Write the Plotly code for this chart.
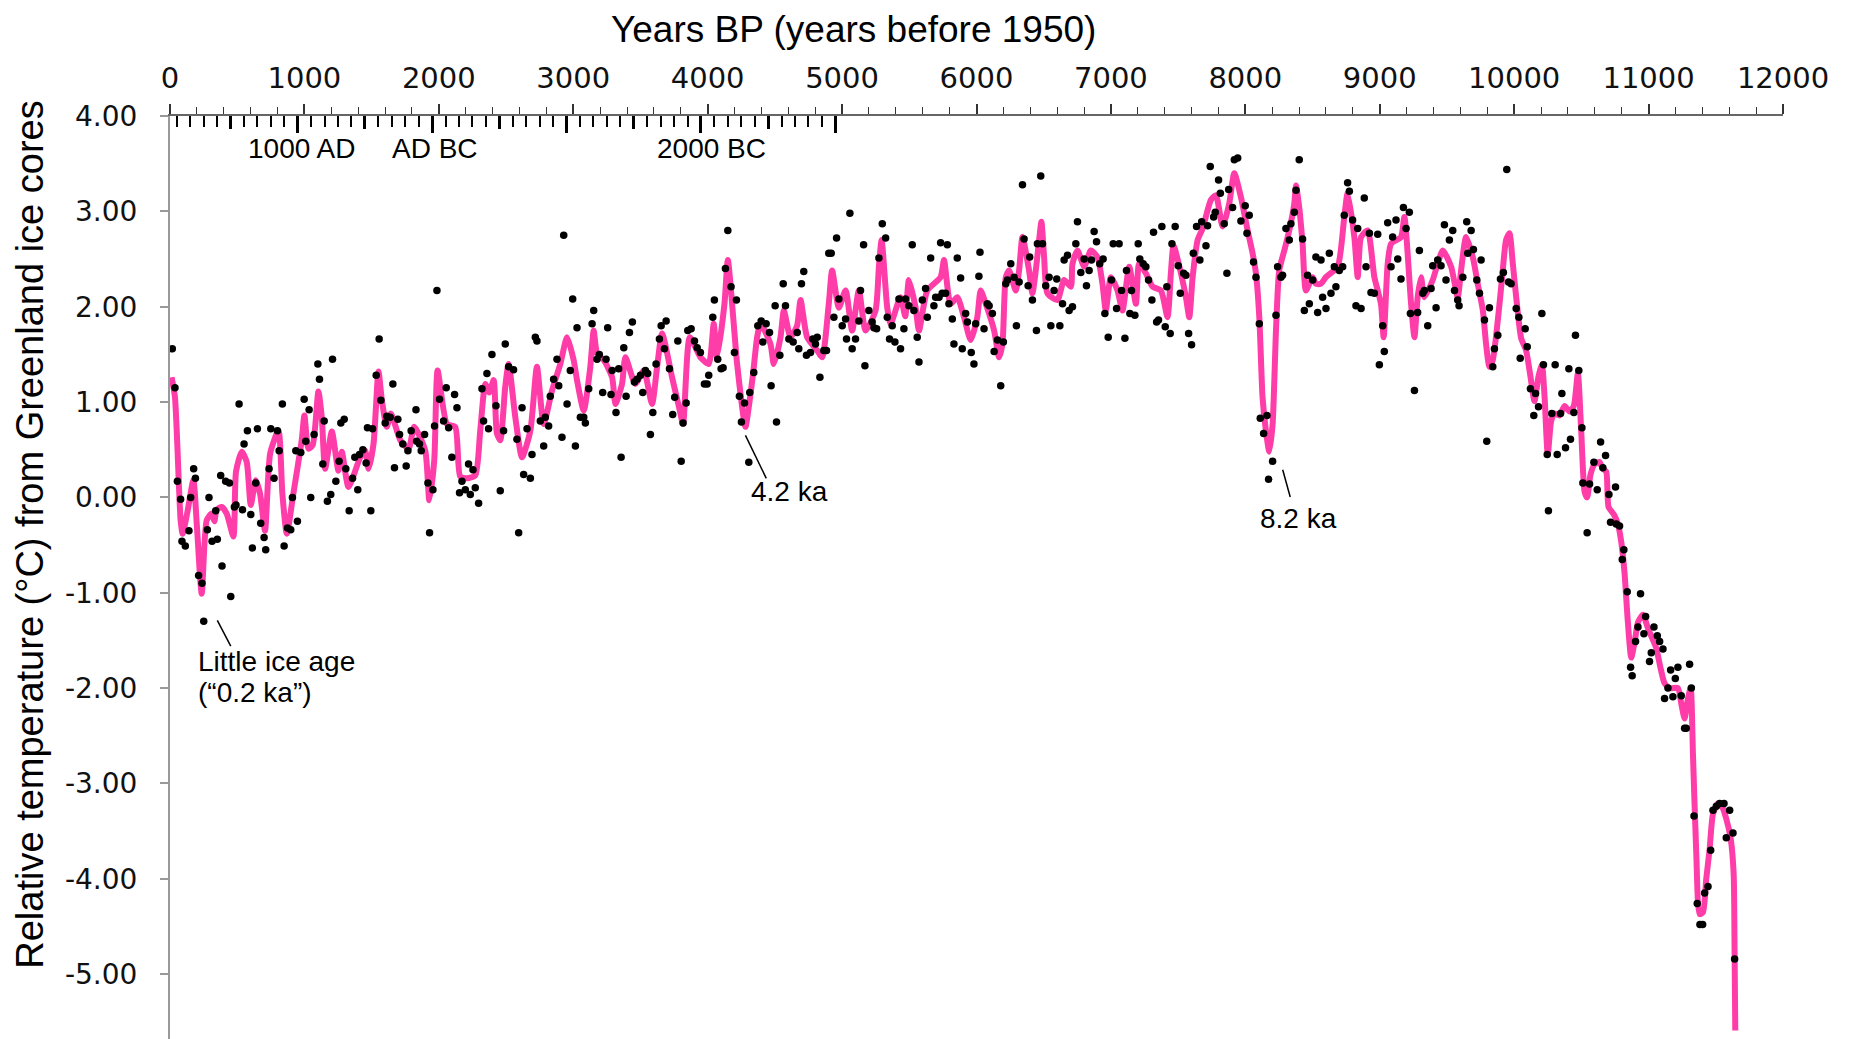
import plotly.graph_objects as go

# ---------------- data (years BP, relative temperature °C) ----------------
dot_years = [17, 37, 55, 79, 89, 114, 141, 154, 176, 189, 213, 238, 251, 278, 290, 313, 340, 352, 377, 387,
             414, 442, 452, 479, 491, 514, 539, 551, 576, 601, 613, 638, 650, 675, 700, 712, 737, 750, 774, 799,
             812, 836, 849, 874, 898, 911, 936, 948, 973, 998, 1010, 1035, 1047, 1072, 1100, 1112, 1137, 1147,
             1171, 1196, 1209, 1234, 1258, 1271, 1296, 1308, 1333, 1358, 1375, 1397, 1410, 1435, 1459, 1469,
             1494, 1507, 1534, 1556, 1569, 1601, 1613, 1638, 1658, 1670, 1695, 1708, 1732, 1757, 1770, 1794,
             1830, 1835, 1856, 1869, 1894, 1919, 1931, 1956, 1968, 1986, 2005,
             2035, 2055, 2073, 2097, 2117, 2135, 2154, 2172, 2197, 2221, 2234, 2254, 2271, 2296, 2321, 2333,
             2358, 2370, 2395, 2425, 2457, 2482, 2494, 2519, 2556, 2581, 2594, 2619, 2631, 2656, 2681, 2693,
             2718, 2730, 2755, 2780, 2792, 2817, 2829, 2854, 2879, 2892, 2916, 2929, 2954, 2978, 2996, 3016,
             3028, 3053, 3078, 3090, 3115, 3140, 3152, 3177, 3194, 3219, 3244, 3256, 3281, 3289, 3318, 3338,
             3356, 3376, 3393, 3418, 3440, 3455, 3475, 3500, 3517, 3537, 3554, 3574, 3592, 3616, 3641, 3654,
             3678, 3691, 3716, 3740, 3755, 3778, 3803, 3817, 3840, 3852, 3877, 3902, 3922, 3946, 3976, 3996, 4008,
             4038, 4050, 4075, 4100, 4115, 4132, 4150, 4174, 4199, 4214, 4236, 4251, 4274, 4306, 4313, 4343,
             4373, 4398, 4410, 4435, 4460, 4472, 4502, 4512, 4537, 4562, 4579, 4604, 4636, 4666, 4678, 4698,
             4715, 4735, 4765, 4782, 4802, 4815, 4835, 4864, 4884, 4901, 4919, 4939, 4959, 4976, 5001, 5026,
             5033, 5058, 5075, 5100, 5125, 5137, 5160, 5170, 5199, 5224, 5237, 5257, 5274, 5299, 5324, 5336,
             5353, 5373, 5393, 5423, 5435, 5460, 5472, 5497, 5522, 5534, 5559, 5572, 5597, 5621, 5634, 5659,
             5683, 5696, 5721, 5733, 5745, 5770, 5783, 5795, 5820, 5832, 5857, 5882, 5894, 5919, 5932, 5961,
             5981, 5994, 6018, 6026,
             6056, 6081, 6094, 6118, 6131, 6156, 6180, 6200, 6218, 6230, 6255, 6280, 6297, 6317, 6342, 6354,
             6384, 6396, 6416, 6446, 6453, 6478, 6491, 6515, 6540, 6553, 6577, 6597, 6620, 6640, 6652, 6677,
             6689, 6714, 6739, 6751, 6776, 6801, 6818, 6838, 6855, 6875, 6893, 6917, 6942, 6955, 6980, 7004,
             7017, 7042, 7061, 7079, 7104, 7116, 7141, 7153, 7178, 7203, 7215, 7240, 7260, 7280, 7305, 7317,
             7340, 7354, 7379, 7404, 7416, 7441, 7454, 7478, 7501, 7516, 7541, 7558, 7578, 7600, 7613, 7637,
             7662, 7675, 7707, 7719, 7739, 7764, 7776, 7801, 7814, 7843, 7863, 7876, 7905, 7918, 7943, 7967,
             7999, 8012, 8029,
             8061, 8079, 8104, 8111, 8136, 8161, 8173, 8203, 8228, 8240, 8265, 8277, 8302, 8327, 8339, 8364,
             8377, 8401, 8426, 8439, 8463, 8476, 8501, 8525, 8538, 8563, 8575, 8600, 8625, 8637, 8662, 8674,
             8699, 8724, 8736, 8761, 8774, 8798, 8823, 8836, 8861, 8885, 8898, 8923, 8935, 8960, 8985, 8997,
             9022, 9034, 9059, 9084, 9096, 9121, 9134, 9158, 9176, 9196, 9220, 9228, 9258, 9282, 9295, 9320,
             9332, 9357, 9382, 9394, 9419, 9431, 9456, 9481, 9493, 9518, 9543, 9556, 9580, 9590, 9618, 9647,
             9655, 9680, 9697, 9722, 9742, 9754, 9779, 9796, 9816, 9841, 9853, 9878, 9898, 9920, 9945, 9958,
             9977, 10015, 10035, 10045,
             10082, 10097, 10121, 10146, 10159, 10181, 10206, 10218, 10246, 10255, 10280, 10305, 10320, 10345,
             10355, 10382, 10407, 10419, 10444, 10456, 10481, 10504, 10511, 10543, 10561, 10593, 10618, 10643,
             10660, 10680, 10705, 10717, 10754, 10759, 10784, 10804, 10816, 10841, 10866, 10878, 10903, 10921,
             10940, 10965, 10978, 11007, 11020, 11040, 11065, 11082, 11107, 11119, 11144, 11164, 11181, 11199,
             11218, 11243, 11268, 11280, 11305, 11318, 11338, 11362, 11382, 11402, 11417, 11442, 11462, 11479,
             11504, 11529, 11561, 11578, 11603, 11628, 11640]

dot_temps = [1.56, 1.15, 0.17, -0.02, -0.46, -0.51, -0.35, 0.00, 0.30, 0.20, -0.82, -0.90, -1.30, -0.34, 0.00,
             -0.46, -0.14, -0.44, 0.23, -0.72, 0.17, 0.15, -1.04, -0.10, -0.08, 0.98, -0.13, 0.56, 0.70, -0.18,
             -0.53, 0.15, 0.72, -0.27, -0.42, -0.55, 0.30, 0.72, 0.20, 0.70, 0.49, 0.98, -0.51, -0.32, -0.34, 0.00,
             0.49, -0.25, 0.47, 1.03, 0.59, 0.92, 0.00, 0.66, 1.40, 1.24, 0.35, 0.80, -0.04, 0.03, 1.45, 0.17,
             0.38, 0.78, 0.82, 0.30, -0.14, 0.20, 0.42, 0.08, 0.45, 0.50, 0.36, 0.73, -0.14, 0.72, 1.28, 1.66,
             1.02, 0.78, 0.85, 0.84, 1.19, 0.31, 0.82, 0.66, 0.56, 0.33, 0.49, 0.70, 0.92, 0.59, 0.56, 0.49,
             0.66, 0.15, -0.37, 0.08, 0.75, 2.17, 1.03,
             0.80, 1.15, 0.73, 0.42, 1.08, 0.94, 0.05, 0.17, 0.08, 0.35, 0.03, 0.29, 0.10, -0.06, 1.14, 0.80,
             1.30, 0.72, 1.50, 0.96, 0.07, 0.70, 1.61, 1.37, 1.34, 0.61, -0.37, 0.94, 0.24, 0.72, 0.20, 0.45,
             1.68, 1.64, 0.80, 0.54, 0.84, 0.75, 1.06, 1.24, 1.45, 1.17, 0.63, 2.75, 0.98, 1.33, 2.08, 0.54,
             1.78, 0.84, 0.84, 0.78, 1.14, 1.82, 1.96, 1.45, 1.50, 1.10, 1.45, 1.78, 1.08, 1.33, 0.89, 1.35,
             0.42, 1.57, 1.06, 1.73, 1.84, 1.21, 1.24, 1.28, 1.10, 1.33, 1.30, 0.66, 0.89, 1.40, 1.66, 1.80,
             1.56, 1.85, 1.35, 0.87, 1.05, 1.64, 0.38, 0.78, 0.99, 1.75, 1.77, 1.64, 1.57, 1.52, 1.19, 1.19, 1.28,
             1.89, 2.07, 1.45, 1.35, 1.36, 2.40, 2.80, 2.21, 1.52, 2.07, 1.06, 0.79, 0.99, 0.37, 1.10, 1.31,
             1.80, 1.85, 1.63, 1.82, 1.73, 1.17, 2.01, 0.79, 1.49, 2.24, 2.01, 1.66, 1.63, 1.73, 1.56, 2.24,
             2.37, 1.49, 1.52, 1.66, 1.61, 1.68, 1.26, 1.54, 1.54, 2.56, 2.56, 1.89, 2.72, 2.08, 1.80, 1.87,
             1.66, 2.98, 1.56, 1.66, 1.85, 2.17, 2.65, 1.38, 1.96, 1.84, 1.78, 1.77, 2.51, 2.87, 2.72, 1.89,
             1.66, 1.80, 1.63, 2.08, 1.56, 1.77, 2.08, 2.01, 2.65, 1.96, 1.68, 1.42, 2.07, 2.19, 1.89, 2.51,
             2.01, 2.10, 2.10, 2.67, 2.14, 2.14, 2.65, 2.03, 1.87, 1.61, 2.51, 2.30, 1.56, 1.93, 1.84, 1.52,
             1.40, 1.82, 2.32, 2.57,
             1.77, 2.03, 2.01, 1.93, 1.53, 1.65, 1.17, 1.63, 2.24, 2.28, 2.45, 2.31, 1.80, 2.26, 3.28, 2.71,
             2.22, 2.52, 2.07, 1.75, 2.66, 3.37, 2.66, 2.22, 2.31, 1.80, 2.17, 2.29, 1.80, 2.03, 2.49, 2.54,
             1.96, 2.00, 2.66, 2.89, 2.36, 2.50, 2.22, 2.38, 2.49, 2.79, 2.68, 2.45, 2.50, 1.93, 1.68, 2.28,
             2.66, 1.98, 2.66, 2.17, 1.67, 2.38, 1.93, 2.17, 1.91, 2.66, 2.50, 2.45, 2.42, 2.28, 2.07, 2.78,
             1.84, 1.86, 2.84, 1.79, 2.21, 1.72, 2.66, 2.84, 2.43, 2.14, 2.35, 2.33, 1.72, 1.60, 2.56, 2.84,
             2.49, 2.89, 2.64, 2.85, 3.47, 2.94, 2.99, 3.33, 3.19, 2.87, 2.35, 3.23, 3.04, 3.54, 3.56, 2.90,
             3.06, 2.77, 2.96,
             2.47, 2.31, 1.82, 0.83, 0.67, 0.86, 0.19, 0.38, 1.91, 2.42, 2.31, 2.33, 2.82, 2.70, 2.87, 2.99,
             3.22, 3.54, 2.71, 1.96, 2.33, 2.03, 2.28, 2.52, 1.94, 2.49, 2.10, 1.98, 2.56, 2.14, 2.42, 2.21,
             2.38, 2.42, 2.96, 3.30, 3.21, 2.91, 2.01, 2.82, 1.98, 3.14, 2.42, 2.77, 2.15, 2.14, 2.76, 1.39,
             1.80, 1.53, 2.88, 2.42, 2.73, 2.91, 2.50, 2.29, 3.04, 2.82, 2.99, 1.93, 1.12, 1.94, 2.59, 2.14,
             2.17, 1.80, 2.19, 2.43, 1.99, 2.49, 2.43, 2.86, 2.28, 2.70, 2.80, 2.17, 2.07, 2.01, 2.31, 2.89,
             2.56, 2.80, 2.60, 2.28, 2.14, 2.49, 1.86, 0.59, 1.99, 1.37, 1.56, 1.70, 2.29, 2.36, 3.44, 2.26,
             2.24, 1.98, 1.89, 1.46,
             1.77, 1.58, 1.14, 0.86, 1.09, 0.95, 1.93, 1.39, 0.45, -0.14, 0.88, 1.39, 0.45, 0.88,
             1.09, 0.52, 1.35, 0.61, 0.89, 1.70, 1.33, 0.73, 0.15, -0.37, 0.14, 0.37, 0.08, 0.58,
             0.31, 0.44, 0.03, -0.26, 0.11, -0.28, -0.30, -0.65, -0.55, -0.99, -1.78, -1.87, -1.51, -1.36,
             -1.01, -1.43, -1.25, -1.72, -1.63, -1.36, -1.45, -1.51, -1.59, -2.11, -2.00, -1.81, -2.09, -1.90,
             -1.78, -2.08, -2.42, -2.42, -1.75, -2.00, -3.34, -4.26, -4.48, -4.48, -4.15, -4.08, -3.70, -3.28,
             -3.24, -3.21, -3.21, -3.57, -3.28, -3.52, -4.84]

line_years = [12, 37, 79, 94, 130, 174, 200, 236, 273, 310, 330, 347, 385, 422, 472, 491, 534, 571, 601, 638,
              670, 707, 745, 807, 836, 869, 918, 980, 1000, 1030, 1062, 1104, 1129, 1154, 1204, 1253, 1278, 1328,
              1415, 1452, 1477, 1514, 1551, 1576, 1613, 1643, 1713, 1775, 1817, 1899, 1929, 1966, 1991,
              2060, 2122, 2159, 2210, 2271, 2308, 2346, 2375, 2408, 2432, 2457, 2494, 2519, 2569, 2619, 2681,
              2730, 2780, 2842, 2904, 2954, 3003, 3028, 3078, 3127, 3152, 3177, 3227, 3289, 3314, 3363, 3388,
              3462, 3525, 3586, 3624, 3661, 3735, 3793, 3817, 3867, 3946, 4008,
              4045, 4070, 4125, 4150, 4194, 4219, 4281, 4306, 4338, 4368, 4393, 4467, 4492, 4542, 4567, 4616,
              4665, 4691, 4740, 4815, 4852, 4901, 4926, 4976, 5026, 5075, 5125, 5175, 5249, 5274, 5294, 5336,
              5361, 5435, 5470, 5497, 5547, 5572, 5634, 5733, 5758, 5807, 5857, 5907, 5957, 6006, 6031,
              6069, 6131, 6168, 6193, 6218, 6242, 6292, 6317, 6342, 6391, 6416, 6441, 6466, 6483, 6503, 6528,
              6602, 6652, 6702, 6714, 6751, 6801, 6851, 6900, 6937, 6962, 7000, 7049, 7086, 7136, 7186, 7210,
              7260, 7310, 7372, 7421, 7446, 7466, 7521, 7558, 7583, 7608, 7645, 7682, 7744, 7781, 7831, 7880,
              7918, 7967,
              8017, 8054, 8079, 8104, 8128, 8153, 8178, 8203, 8228, 8252, 8290, 8327, 8364, 8377, 8401, 8426,
              8451, 8501, 8525, 8560, 8600, 8687, 8736, 8761, 8811, 8836, 8861, 8910, 8960, 9009, 9029, 9059,
              9084, 9158, 9183, 9233, 9258, 9282, 9307, 9332, 9394, 9431, 9469, 9531, 9580, 9605, 9642, 9692,
              9729, 9767, 9791, 9816, 9841, 9891, 9915, 9940, 9965, 9990, 10015,
              10052, 10089, 10121, 10151, 10181, 10206, 10226, 10250, 10275, 10300, 10337, 10375, 10412, 10444,
              10474, 10499, 10524, 10543, 10568, 10598, 10635, 10660, 10685, 10702, 10742, 10772, 10797, 10821,
              10846, 10871, 10896, 10921, 10958, 10995, 11025, 11057, 11089, 11119, 11156, 11218, 11243, 11268,
              11293, 11313, 11330, 11355, 11380, 11405, 11429, 11454, 11479, 11516, 11546, 11578, 11611, 11633,
              11640, 11645]

line_temps = [1.26, 1.05, -0.24, -0.38, -0.15, 0.18, -0.30, -1.01, -0.24, -0.17, -0.25, -0.13, -0.10, -0.17,
              -0.41, 0.27, 0.48, 0.37, -0.08, 0.18, 0.04, -0.35, 0.46, 0.70, 0.04, -0.38, 0.04, 0.60, 0.86, 0.51,
              0.55, 1.11, 0.84, 0.30, 0.69, 0.28, 0.48, 0.11, 0.42, 0.49, 0.30, 0.56, 1.32, 1.02, 0.74, 0.88,
              0.60, 0.51, 0.74, 0.49, -0.03, 0.39, 1.33,
              0.77, 0.74, 0.22, 0.20, 0.23, 0.70, 1.19, 1.10, 1.23, 0.67, 0.60, 1.16, 1.40, 0.84, 0.42, 0.70,
              1.37, 0.77, 1.12, 1.40, 1.68, 1.44, 1.23, 0.91, 1.37, 1.75, 1.51, 1.44, 1.26, 0.98, 1.19, 1.47,
              1.19, 1.33, 0.98, 1.37, 1.72, 1.26, 0.91, 0.77, 1.68, 1.47, 1.40,
              1.82, 1.47, 2.03, 2.49, 1.82, 1.40, 0.74, 0.95, 1.30, 1.68, 1.82, 1.61, 1.40, 1.68, 1.96, 1.68,
              1.80, 2.07, 1.68, 1.54, 1.47, 2.03, 2.38, 1.99, 2.17, 1.75, 2.17, 1.75, 1.96, 2.42, 2.70, 1.99,
              1.82, 2.10, 1.90, 2.28, 1.99, 1.75, 2.17, 2.31, 2.49, 2.03, 2.10, 1.89, 1.65, 1.89, 2.17,
              2.03, 1.75, 1.47, 1.61, 2.31, 2.38, 2.17, 2.38, 2.73, 2.38, 2.14, 2.38, 2.70, 2.89, 2.52, 2.14,
              2.07, 2.28, 2.21, 2.45, 2.59, 2.42, 2.59, 2.52, 2.24, 1.96, 2.31, 2.17, 1.96, 2.42, 2.03, 2.45,
              2.35, 2.21, 2.17, 1.89, 2.35, 2.64, 2.35, 2.10, 1.89, 2.31, 2.70, 2.82, 3.12, 3.17, 2.84, 3.08,
              3.40, 3.15,
              2.80, 2.56, 2.35, 1.89, 1.05, 0.70, 0.48, 0.77, 1.75, 2.38, 2.59, 2.80, 3.08, 3.27, 3.04, 2.66,
              2.17, 2.31, 2.24, 2.24, 2.31, 2.42, 2.94, 3.19, 2.73, 2.31, 2.73, 2.80, 2.31, 2.03, 1.68, 2.45,
              2.66, 2.73, 2.94, 2.03, 1.68, 2.10, 2.31, 2.10, 2.28, 2.45, 2.59, 2.42, 2.10, 2.38, 2.73, 2.52,
              2.24, 1.96, 1.61, 1.37, 1.44, 2.03, 2.38, 2.70, 2.77, 2.45, 2.10,
              1.67, 1.54, 1.27, 1.01, 1.27, 1.40, 1.06, 0.45, 0.80, 0.88, 0.86, 0.96, 0.90, 0.96,
              1.30, 0.69, 0.06, 0.00, 0.24, 0.35, 0.37, 0.30, 0.27, -0.10, -0.18, -0.28, -0.47, -0.79,
              -1.31, -1.68, -1.52, -1.31, -1.23, -1.37, -1.47, -1.58, -1.79, -1.95, -2.00, -2.00, -2.16, -2.32,
              -2.11, -2.00, -2.69, -3.74, -4.37, -4.35, -4.00, -3.69, -3.32, -3.21, -3.24, -3.37, -3.58, -3.95,
              -4.80, -5.59]

# axis ticks
bp_ticks = list(range(0, 12001, 1000))
bp_tick_text = [str(v) for v in bp_ticks]
temp_ticks = [4, 3, 2, 1, 0, -1, -2, -3, -4, -5]
temp_tick_text = ["%.2f" % v for v in temp_ticks]
cal_millennium_bp = [950, 1950, 2950, 3950, 4950]
cal_half_bp = [450, 1450, 2450, 3450, 4450]
cal_century_bp = list(range(50, 5000, 100))
cal_labels = ["1000 AD", "AD BC", "2000 BC"]
cal_label_bp = [975, 1975, 4031]

# annotation anchors (data coordinates)
notes = [("4.2 ka", 4609, 0.06), ("8.2 ka", 8395, -0.22)]
pointers = [((352, -1.29), (452, -1.56)), ((4281, 0.65), (4436, 0.20)), ((8278, 0.29), (8334, 0.005))]

PINK = "#FF3DA8"
TXT = "Liberation Sans, Arial, sans-serif"
TICKF = "DejaVu Sans, Verdana, sans-serif"

fig = go.Figure()
fig.add_trace(go.Scatter(x=line_years, y=line_temps, mode="lines",
                         line=dict(color=PINK, width=6, shape="spline", smoothing=0.6),
                         hoverinfo="skip", showlegend=False))
fig.add_trace(go.Scatter(x=dot_years, y=dot_temps, mode="markers",
                         marker=dict(color="black", size=7.5, line=dict(width=0)),
                         showlegend=False))
# invisible helpers so overlay axes render
fig.add_trace(go.Scatter(x=cal_millennium_bp, y=[None] * len(cal_millennium_bp), xaxis="x2",
                         mode="markers", showlegend=False, hoverinfo="skip"))
fig.add_trace(go.Scatter(x=cal_half_bp, y=[None] * len(cal_half_bp), xaxis="x3",
                         mode="markers", showlegend=False, hoverinfo="skip"))

fig.update_layout(
    width=1842, height=1031,
    margin=dict(l=162, r=67, t=108, b=0),
    paper_bgcolor="white", plot_bgcolor="white",
    xaxis=dict(range=[0, 12000], side="top", tickvals=bp_ticks, ticktext=bp_tick_text,
               ticks="outside", ticklen=10,
               tickwidth=1.5, tickcolor="#333", showline=True, linecolor="#666", linewidth=2,
               showgrid=False, zeroline=False, ticklabelstandoff=4,
               tickfont=dict(family=TICKF, size=29, color="#111"),
               minor=dict(dtick=200, tick0=0, ticks="outside", ticklen=7, tickwidth=1.2, tickcolor="#333")),
    xaxis2=dict(range=[0, 12000], overlaying="x", side="top", anchor="y", tickvals=cal_millennium_bp,
                ticks="inside", ticklen=17, tickwidth=3, tickcolor="black", showticklabels=False,
                showline=False, showgrid=False, zeroline=False,
                minor=dict(tickvals=cal_century_bp, ticks="inside", ticklen=11, tickwidth=1.5, tickcolor="black")),
    xaxis3=dict(range=[0, 12000], overlaying="x", side="top", anchor="y", tickvals=cal_half_bp,
                ticks="inside", ticklen=13, tickwidth=3, tickcolor="black", showticklabels=False,
                showline=False, showgrid=False, zeroline=False),
    yaxis=dict(range=[-5.68, 4.0], tickvals=temp_ticks, ticktext=temp_tick_text, ticks="outside", ticklen=8,
               tickwidth=1.5, tickcolor="#999", showline=True, linecolor="#999", linewidth=2,
               showgrid=False, zeroline=False, ticklabelstandoff=17,
               tickfont=dict(family=TICKF, size=28, color="#111")),
    showlegend=False,
)

ann = []
ann.append(dict(text="Years BP (years before 1950)", xref="paper", yref="paper", x=0.424, y=1.0932,
                showarrow=False, font=dict(family=TXT, size=37, color="black"),
                xanchor="center", yanchor="middle", borderpad=0))
ann.append(dict(text="Relative temperature (°C) from Greenland ice cores", xref="paper", yref="paper",
                x=-0.087, y=0.546, textangle=-90, showarrow=False,
                font=dict(family=TXT, size=38, color="black"), xanchor="center", yanchor="middle"))
for lab, xb in zip(cal_labels, cal_label_bp):
    ann.append(dict(text=lab, x=xb, y=3.66, xref="x", yref="y", showarrow=False,
                    font=dict(family=TXT, size=28, color="black"), xanchor="center", yanchor="middle"))
for lab, xb, yv in notes:
    ann.append(dict(text=lab, x=xb, y=yv, xref="x", yref="y", showarrow=False,
                    font=dict(family=TXT, size=28, color="black"), xanchor="center", yanchor="middle"))
ann.append(dict(text="Little ice age", x=194, y=-1.72, xref="x", yref="y", showarrow=False,
                font=dict(family=TXT, size=28, color="black"), xanchor="left", yanchor="middle"))
ann.append(dict(text="(“0.2 ka”)", x=194, y=-2.05, xref="x", yref="y", showarrow=False,
                font=dict(family=TXT, size=28, color="black"), xanchor="left", yanchor="middle"))
fig.update_layout(annotations=ann)

for (p0, p1) in pointers:
    fig.add_shape(type="line", xref="x", yref="y", x0=p0[0], y0=p0[1], x1=p1[0], y1=p1[1],
                  line=dict(color="black", width=1.5))

fig.write_html("out.html")
